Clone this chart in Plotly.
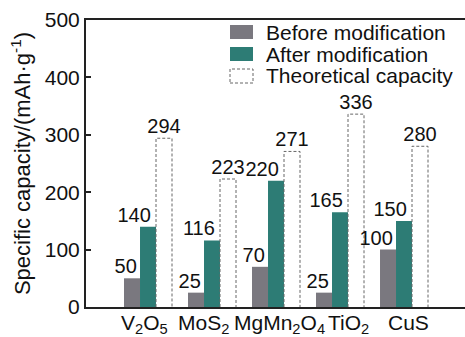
import plotly.graph_objects as go

categories = ["V<sub>2</sub>O<sub>5</sub>", "MoS<sub>2</sub>", "MgMn<sub>2</sub>O<sub>4</sub>", "TiO<sub>2</sub>", "CuS"]
before = [50, 25, 70, 25, 100]
after = [140, 116, 220, 165, 150]
theoretical = [294, 223, 271, 336, 280]
series_names = ["Before modification", "After modification", "Theoretical capacity"]

GRAY = "#7a787f"
TEAL = "#2d7c75"
DASH = "#666666"
FONT = "Liberation Sans, Arial, sans-serif"
W = 0.25
LABEL_SHIFT = [-4, -9, 3, 8, 4]   # pixel nudges of category labels

idx = list(range(len(categories)))
fig = go.Figure()

fig.add_trace(go.Bar(x=[i - W for i in idx], y=before, width=W, marker_color=GRAY,
                     marker_line_width=0, showlegend=False))
fig.add_trace(go.Bar(x=idx, y=after, width=W, marker_color=TEAL,
                     marker_line_width=0, showlegend=False))

# dashed outline bars for theoretical capacity
xs, ys = [], []
for i, v in zip(idx, theoretical):
    x0, x1 = i + W / 2, i + 1.5 * W
    xs += [x0, x0, x1, x1, None]
    ys += [0, v, v, 0, None]
fig.add_trace(go.Scatter(x=xs, y=ys, mode="lines", line=dict(color=DASH, width=1, dash="3px,2px"),
                         showlegend=False, hoverinfo="skip"))

# value labels
fig.add_trace(go.Scatter(x=[i - W / 2 - 0.05 for i in idx], y=before, mode="text",
                         text=[str(v) for v in before], textposition="top left",
                         textfont=dict(size=20, color="#111", family=FONT), showlegend=False))
fig.add_trace(go.Scatter(x=[i + W / 2 - 0.08 for i in idx], y=after, mode="text",
                         text=[str(v) for v in after], textposition="top left",
                         textfont=dict(size=20, color="#111", family=FONT), showlegend=False))
fig.add_trace(go.Scatter(x=[i + W for i in idx], y=theoretical, mode="text",
                         text=[str(v) for v in theoretical], textposition="top center",
                         textfont=dict(size=20, color="#111", family=FONT), showlegend=False))

# manual legend
W_PX, H_PX, L, T = 379, 287, 86, 20
def px(x): return (x - L) / W_PX
def py(y): return (307 - y) / H_PX

shapes = [
    dict(type="rect", xref="paper", yref="paper", x0=px(230), x1=px(253), y0=py(39), y1=py(25),
         fillcolor=GRAY, line_width=0),
    dict(type="rect", xref="paper", yref="paper", x0=px(230), x1=px(253), y0=py(61), y1=py(47),
         fillcolor=TEAL, line_width=0),
    dict(type="rect", xref="paper", yref="paper", x0=px(230), x1=px(253), y0=py(83), y1=py(69),
         fillcolor="rgba(0,0,0,0)", line=dict(color=DASH, width=1, dash="3px,2px")),
]
annotations = []
for name, yc in zip(series_names, [33, 54, 76]):
    annotations.append(dict(xref="paper", yref="paper", x=px(264), y=py(yc), text=name,
                            showarrow=False, xanchor="left", yanchor="middle",
                            font=dict(size=21, color="#111", family=FONT)))
# category labels
for i, cat, sh in zip(idx, categories, LABEL_SHIFT):
    annotations.append(dict(xref="x", yref="paper", x=i, y=0, text=cat, showarrow=False,
                            xanchor="center", yanchor="top", xshift=sh, yshift=-2,
                            font=dict(size=21, color="#111", family=FONT)))

fig.update_layout(
    width=465, height=337,
    margin=dict(l=86, r=0, t=20, b=30),
    paper_bgcolor="white", plot_bgcolor="white",
    barmode="overlay",
    shapes=shapes, annotations=annotations,
    font=dict(family=FONT, color="#111"),
    xaxis=dict(range=[-0.969, 4.953], tickvals=idx, showticklabels=False, showgrid=False,
               showline=True, linecolor="#222", linewidth=2, mirror=True, ticks="",
               automargin=False, zeroline=False),
    yaxis=dict(range=[0, 500], tickvals=[0, 100, 200, 300, 400, 500], showgrid=False,
               showline=True, linecolor="#222", linewidth=2, ticks="inside", ticklen=5,
               tickwidth=2, tickcolor="#222", zeroline=False, automargin=False,
               tickfont=dict(size=21, family=FONT, color="#111"),
               title=dict(text="Specific capacity/(mAh·g<sup>-1</sup>)", standoff=8,
                          font=dict(size=22, family=FONT, color="#111"))),
)

fig.write_html("out.html")
